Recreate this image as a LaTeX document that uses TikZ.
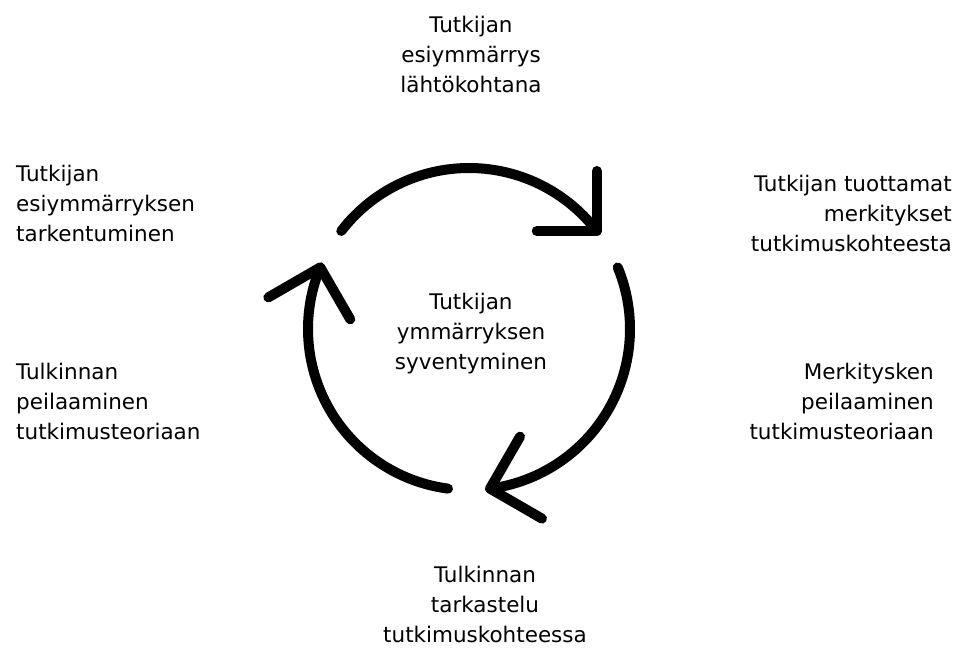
\documentclass[tikz,border=0pt]{standalone}
\usepackage{fontspec}
\setmainfont{DejaVu Sans}
\usetikzlibrary{calc}
\begin{document}
\begin{tikzpicture}[x=1pt,y=1pt,
  lbl/.style={font=\fontsize{21.5}{30}\selectfont, inner sep=0pt},
  ring/.style={line width=10pt, line cap=round, line join=round}]
\useasboundingbox (0,0) rectangle (957,650);
\coordinate (c) at (469,321);
\foreach \s/\e in {142.5/37.5, 22.5/-82.5, 262.5/157.5} {
  \draw[ring] ($(c)+(\s:161)$) arc[start angle=\s, end angle=\e, radius=161];
  \draw[ring] ($(c)+(\e:161)+(\e+142.5:60)$) -- ($(c)+(\e:161)$) -- ($(c)+(\e:161)+(\e+52.5:60)$);
}
\node[lbl, anchor=base, align=center] (top) at (471,557) {Tutkijan\\esiymmärrys\\lähtökohtana};
\node[lbl, anchor=base west, align=left] (tl) at (16,408) {Tutkijan\\esiymmärryksen\\tarkentuminen};
\node[lbl, anchor=base east, align=right] (tr) at (952,398) {Tutkijan tuottamat\\merkitykset\\tutkimuskohteesta};
\node[lbl, anchor=base west, align=left] (bl) at (16,210) {Tulkinnan\\peilaaminen\\tutkimusteoriaan};
\node[lbl, anchor=base east, align=right] (br) at (934,210) {Merkitysken\\peilaaminen\\tutkimusteoriaan};
\node[lbl, anchor=base, align=center] (bot) at (485,8) {Tulkinnan\\tarkastelu\\tutkimuskohteessa};
\node[lbl, anchor=base, align=center] (mid) at (471,280) {Tutkijan\\ymmärryksen\\syventyminen};
\end{tikzpicture}
\end{document}
